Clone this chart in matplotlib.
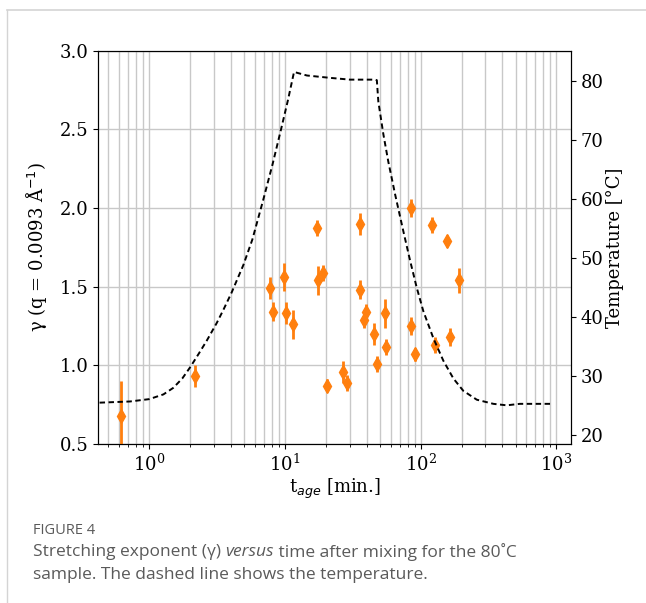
import matplotlib
matplotlib.use("Agg")
import matplotlib.pyplot as plt

# gamma data (t_age in min, gamma, error)
t_age = [0.62, 2.18, 7.79, 8.11, 9.83, 10.2, 11.4, 17.1, 17.4, 19.2, 20.5,
         26.6, 28.6, 35.7, 35.9, 38.0, 39.3, 45.3, 47.6, 54.3, 55.8,
         84.4, 85.3, 90.8, 121, 127, 157, 164, 192]
gamma = [0.68, 0.93, 1.49, 1.34, 1.56, 1.33, 1.26, 1.875, 1.54, 1.585, 0.87,
         0.96, 0.89, 1.90, 1.48, 1.29, 1.34, 1.20, 1.01, 1.33, 1.115,
         2.00, 1.25, 1.07, 1.89, 1.13, 1.79, 1.18, 1.54]
gamma_err = [0.22, 0.07, 0.07, 0.06, 0.09, 0.07, 0.09, 0.05, 0.09, 0.05, 0.04,
             0.07, 0.05, 0.07, 0.06, 0.05, 0.05, 0.07, 0.05, 0.09, 0.05,
             0.06, 0.06, 0.04, 0.05, 0.05, 0.04, 0.06, 0.08]

# temperature curve
t_temp = [0.43, 0.72, 1.0, 1.27, 1.5, 1.75, 2.0, 2.3, 2.65, 3.14, 3.51, 4.05,
          4.93, 5.74, 6.92, 8.1, 9.35, 10.5, 11.65,
          14.5, 21.5, 30.1, 46.0, 47.5,
          48.7, 53.0, 57.7, 64.7, 74.5, 83.4, 93.4, 104.5, 124, 146.8, 174,
          206, 259, 343, 430, 537, 897]
temp = [25.5, 25.7, 26.1, 26.9, 28.0, 29.6, 31.5, 33.7, 36.0, 39.0, 41.2, 44.2,
        48.8, 53.1, 59.9, 65.9, 71.8, 76.7, 81.5,
        80.9, 80.5, 80.2, 80.2, 80.1,
        76.5, 71.0, 66.3, 60.8, 54.5, 49.6, 45.0, 41.0, 36.4, 32.6, 29.6,
        27.5, 26.0, 25.3, 25.05, 25.3, 25.3]

plt.rcParams['font.family'] = 'DejaVu Serif'
plt.rcParams['mathtext.fontset'] = 'dejavusans'

fig = plt.figure(figsize=(6.46, 6.03), dpi=100)
ax = fig.add_axes([98.3/646, 1-444/603, (570.7-98.3)/646, (444-50.7)/603])

ax.errorbar(t_age, gamma, yerr=gamma_err, fmt='d', color='#ff7f0e', ms=7,
            elinewidth=2, capsize=0, zorder=3)
ax.set_xscale('log')
ax.set_xlim(0.4207, 1274)
ax.set_ylim(0.5, 3.0)
ax.set_yticks([0.5, 1.0, 1.5, 2.0, 2.5, 3.0])
ax.grid(True, which='both', axis='x', color='#c8c8c8', lw=1)
ax.grid(True, which='major', axis='y', color='#c8c8c8', lw=1)
ax.set_axisbelow(True)
ax.tick_params(labelsize=13)
ax.set_xlabel(r"t$_{age}$ [min.]", fontsize=13, labelpad=1)
ax.set_ylabel(r"γ (q = 0.0093 Å$^{-1}$)", fontsize=13, labelpad=8)

ax2 = ax.twinx()
ax2.plot(t_temp, temp, color='black', linestyle=(0, (2.8, 1.8)), lw=1.4)
ax2.set_ylim(18.5, 85.1)
ax2.set_yticks([20, 30, 40, 50, 60, 70, 80])
ax2.tick_params(labelsize=13)
ax2.set_ylabel("Temperature [°C]", fontsize=13, labelpad=2)

# card border lines
fig.add_artist(plt.Line2D([7/646, 1], [1-9.5/603, 1-9.5/603], color='#d4d4d4', lw=1.2))
fig.add_artist(plt.Line2D([7/646, 7/646], [0, 1-9.5/603], color='#d4d4d4', lw=1.0))

# caption
cap_color = '#5a5a5a'
fig.text(33/646, 1-531/603, "FIGURE 4", family='Open Sans', fontsize=10.5,
         color=cap_color, va='center')
fig.canvas.draw()
renderer = fig.canvas.get_renderer()
x0 = 33/646
y1 = 1-552/603
parts = [("Stretching exponent (γ) ", 'normal'), ("versus", 'italic'),
         (" time after mixing for the 80˚C", 'normal')]
for txt, style in parts:
    tt = fig.text(x0, y1, txt, family='Open Sans', fontsize=12.5, style=style,
                  color=cap_color, va='center')
    bb = tt.get_window_extent(renderer)
    x0 += bb.width/646
fig.text(33/646, 1-575/603, "sample. The dashed line shows the temperature.",
         family='Open Sans', fontsize=12.5, color=cap_color, va='center')

fig.savefig("out.png", dpi=100)
